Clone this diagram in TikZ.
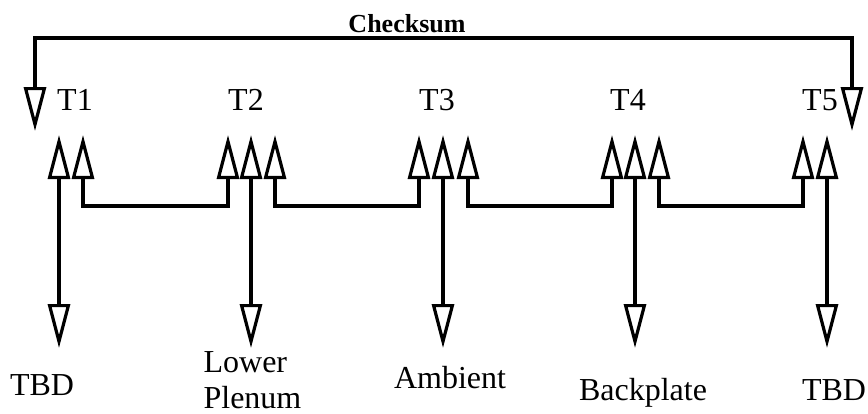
\documentclass[tikz,border=0pt]{standalone}
\usepackage{fontspec}
\setmainfont{Liberation Serif}
\usetikzlibrary{arrows.meta}
\begin{document}
\begin{tikzpicture}[x=1pt,y=-1pt,line width=3.2pt,
  hd/.tip={Triangle[open,length=44pt,width=22pt]},
  both/.style={hd-hd},
  lbl/.style={font=\fontsize{32}{36}\selectfont,anchor=base,inner sep=0pt},
  cslbl/.style={font=\fontsize{26}{30}\selectfont\bfseries,anchor=base,inner sep=0pt}]
\useasboundingbox (0,0) rectangle (868,413);
% reference heights
\coordinate (top) at (0,38);
\coordinate (bus) at (0,206);
\coordinate (down) at (0,348);
% arrow tips at the sensors
\coordinate (c1) at (35,131);
\coordinate (c5) at (852,131);
\coordinate (t1a) at (59,135);  \coordinate (t1b) at (83,135);
\coordinate (t2a) at (228,135); \coordinate (t2b) at (251,135); \coordinate (t2c) at (275,135);
\coordinate (t3a) at (419,135); \coordinate (t3b) at (443,135); \coordinate (t3c) at (468,135);
\coordinate (t4a) at (612,135); \coordinate (t4b) at (635,135); \coordinate (t4c) at (659,135);
\coordinate (t5a) at (803,135); \coordinate (t5b) at (827,135);
% labels
\node[cslbl] (cs) at (407,32) {Checksum};
\node[lbl] (T1) at (75,110) {T1};
\node[lbl] (T2) at (246,110) {T2};
\node[lbl] (T3) at (437,110) {T3};
\node[lbl] (T4) at (628,110) {T4};
\node[lbl] (T5) at (820,110) {T5};
\node[lbl] (L1) at (42,395) {TBD};
\node[lbl,anchor=base west,align=left] (L2) at (202,408) {Lower\\Plenum};
\node[lbl] (L3) at (450,388) {Ambient};
\node[lbl] (L4) at (643,400) {Backplate};
\node[lbl] (L5) at (834,400) {TBD};
% checksum loop
\draw[both] (c1) -- (c1 |- top) -- (c5 |- top) -- (c5);
% bus links
\draw[both] (t1b) -- (t1b |- bus) -- (t2a |- bus) -- (t2a);
\draw[both] (t2c) -- (t2c |- bus) -- (t3a |- bus) -- (t3a);
\draw[both] (t3c) -- (t3c |- bus) -- (t4a |- bus) -- (t4a);
\draw[both] (t4c) -- (t4c |- bus) -- (t5a |- bus) -- (t5a);
% sensor leads
\draw[both] (t1a) -- (t1a |- down);
\draw[both] (t2b) -- (t2b |- down);
\draw[both] (t3b) -- (t3b |- down);
\draw[both] (t4b) -- (t4b |- down);
\draw[both] (t5b) -- (t5b |- down);
\end{tikzpicture}
\end{document}
